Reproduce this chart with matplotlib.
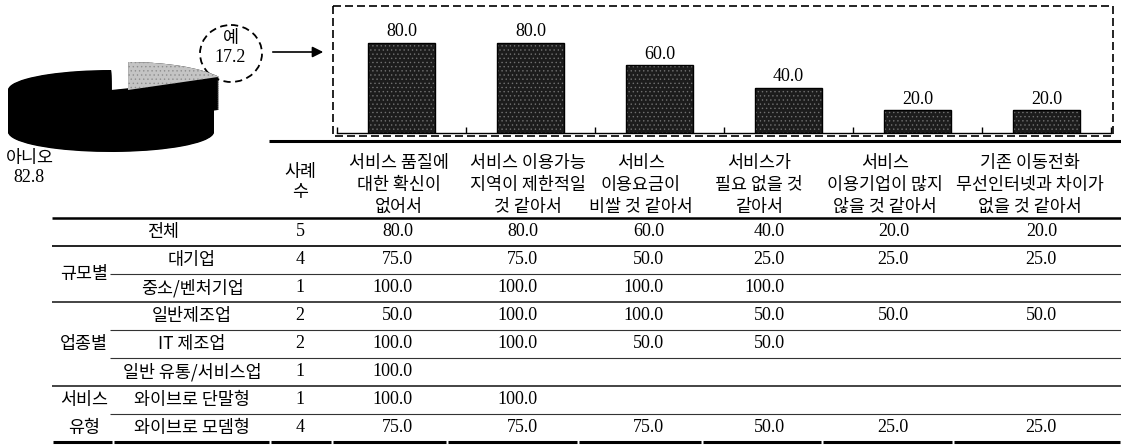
import numpy as np
import matplotlib
matplotlib.use("Agg")
import matplotlib.pyplot as plt
from matplotlib.patches import Ellipse, Rectangle

plt.rcParams['font.family'] = ['Noto Sans CJK KR', 'DejaVu Sans']
plt.rcParams['hatch.linewidth'] = 0.5

# 와이브로 서비스 이용 의향 (예/아니오, %)
pie_names = ["예", "아니오"]
pie_values = [17.2, 82.8]

# 이용하지 않으려는 이유 (복수응답, %)
reasons = [
    "서비스 품질에\n대한 확신이\n없어서",
    "서비스 이용가능\n지역이 제한적일\n것 같아서",
    "서비스\n이용요금이\n비쌀 것 같아서",
    "서비스가\n필요 없을 것\n같아서",
    "서비스\n이용기업이 많지\n않을 것 같아서",
    "기존 이동전화\n무선인터넷과 차이가\n없을 것 같아서",
]
overall = [80.0, 80.0, 60.0, 40.0, 20.0, 20.0]

group_names = ["규모별", "업종별", "서비스\n유형"]
group_sizes = [2, 3, 2]
row_labels = ["전체", "대기업", "중소/벤처기업", "일반제조업", "IT 제조업",
              "일반 유통/서비스업", "와이브로 단말형", "와이브로 모뎀형"]
row_counts = [5, 4, 1, 2, 2, 1, 1, 4]
nan = np.nan
row_values = [
    overall,
    [75.0, 75.0, 50.0, 25.0, 25.0, 25.0],
    [100.0, 100.0, 100.0, 100.0, nan, nan],
    [50.0, 100.0, 100.0, 50.0, 50.0, 50.0],
    [100.0, 100.0, 50.0, 50.0, nan, nan],
    [100.0, nan, nan, nan, nan, nan],
    [100.0, 100.0, nan, nan, nan, nan],
    [75.0, 75.0, 75.0, 50.0, 25.0, 25.0],
]

W, H = 1121, 447
NUM_FONT = dict(family='Liberation Serif', fontsize=13)
KO_SIZE = 12.5


def rect(x0, y0, x1, y1):
    # 픽셀 좌표(위가 0) -> figure 좌표
    return [x0 / W, 1 - y1 / H, (x1 - x0) / W, (y1 - y0) / H]


def pie_axes(cy, unit_y):
    # 가로 반지름 103px, 중심 x=111px 인 납작한 원그래프용 축
    ax = fig.add_axes(rect(0, 30, 240, 175))
    ax.patch.set_alpha(0)
    return ax, cy, unit_y


def finish_pie(ax, cy, unit_y):
    ax.set_xlim((0 - 111) / 103, (240 - 111) / 103)
    ax.set_ylim((cy - 175) / unit_y, (cy - 30) / unit_y)
    ax.set_aspect('auto')
    ax.axis('off')


fig = plt.figure(figsize=(W / 100, H / 100), dpi=100)

# 전체 배경용 축 (픽셀 단위): 표, 글자, 점선 상자
ov = fig.add_axes([0, 0, 1, 1])
ov.set_xlim(0, W)
ov.set_ylim(H, 0)
ov.axis('off')

# ---- 3D 느낌의 원그래프 ----
kw = dict(startangle=28, counterclock=True, wedgeprops=dict(linewidth=0))

# 아니오: 윗면 중심 y=90px, 세로 반지름 20px, 두께 42px
pa, cy, uy = pie_axes(90, 20.0)
for d in np.linspace(42 / uy, 0, 70):
    pa.pie(pie_values, colors=['none', 'black'], center=(0, -d), **kw)
finish_pie(pa, cy, uy)

# 예: 바깥으로 빼낸 조각, 꼭짓점 (128, 90)px, 세로 반지름 28px
ga, cy, uy = pie_axes(90, 28.0)
gx = 17 / 103
for d in np.linspace(33 / uy, 0, 50):
    ga.pie(pie_values, colors=['black', 'none'], center=(gx, -d), **kw)
wedges = ga.pie(pie_values, colors=['#c4c4c4', 'none'], center=(gx, 0), **kw)[0]
wedges[0].set_edgecolor('#8e8e8e')
wedges[0].set_linewidth(0)
wedges[0].set_hatch('....')
finish_pie(ga, cy, uy)

ov.text(30, 158, pie_names[1], ha='center', va='center', fontsize=KO_SIZE)
ov.text(29, 177, f"{pie_values[1]:.1f}", ha='center', va='center', **NUM_FONT)
ov.text(231, 38, pie_names[0], ha='center', va='center', fontsize=KO_SIZE)
ov.text(230, 58, f"{pie_values[0]:.1f}", ha='center', va='center', **NUM_FONT)
ov.add_patch(Ellipse((231, 53.5), 62, 57, fill=False, lw=1.3, ls=(0, (4, 2.5))))
ov.annotate('', xy=(326, 52), xytext=(270, 52),
            arrowprops=dict(arrowstyle='-|>', color='black', lw=1.2, mutation_scale=16))

# ---- 막대그래프 (점선 상자 안) ----
ov.add_patch(Rectangle((333, 6), 780, 130, fill=False, lw=1.2, ls=(0, (4.8, 2.4))))
ba = fig.add_axes(rect(337, 20, 1111, 132.5))
ba.patch.set_alpha(0)
x = np.arange(len(overall))
ba.bar(x, overall, width=0.52, color='#1c1c1c', edgecolor='#707070',
       hatch='....', linewidth=0)
bars = ba.bar(x, overall, width=0.52, fill=False, edgecolor='black', linewidth=1.0)
ba.bar_label(bars, fmt='%.1f', padding=1.5, **NUM_FONT)
ba.set_xlim(-0.5, len(overall) - 0.5)
ba.set_ylim(0, 100)
for s in ['top', 'left', 'right']:
    ba.spines[s].set_visible(False)
ba.spines['bottom'].set_linewidth(1.0)
ba.set_yticks([])
ba.set_xticks(np.arange(-0.5, len(overall)))
ba.tick_params(axis='x', direction='in', length=4, width=1, labelbottom=False)

# ---- 표 ----
head_x = [399, 528, 641, 759, 885, 1030]
val_right = [413, 538, 664, 785, 909, 1057]
head_y = [163, 185, 207]
row_y = [232 + 28 * i for i in range(len(row_labels))]
col_edges = [52, 113, 270, 332, 447, 578, 702, 822, 953, W]

ov.plot([269, W], [141, 141], color='black', lw=2.2, solid_capstyle='butt')
ov.text(300, 172, "사례", ha='center', va='center', fontsize=KO_SIZE)
ov.text(300, 192, "수", ha='center', va='center', fontsize=KO_SIZE)
for cx, txt in zip(head_x, reasons):
    for ly, line in zip(head_y, txt.split("\n")):
        ov.text(cx, ly, line, ha='center', va='center', fontsize=KO_SIZE)
ov.plot([52, W], [218, 218], color='black', lw=1.8, solid_capstyle='butt')

for i, (lab, n, vals) in enumerate(zip(row_labels, row_counts, row_values)):
    y = row_y[i]
    ov.text(163 if i == 0 else 192, y, lab, ha='center', va='center', fontsize=KO_SIZE)
    ov.text(300, y, str(n), ha='center', va='center', **NUM_FONT)
    for xr, v in zip(val_right, vals):
        if not np.isnan(v):
            ov.text(xr, y, f"{v:.1f}", ha='right', va='center', **NUM_FONT)

# 그룹 이름과 구분선
ov.plot([52, W], [246, 246], color='#111111', lw=1.3, solid_capstyle='butt')
start = 1
for name, size in zip(group_names, group_sizes):
    ys = row_y[start:start + size]
    lines = name.split("\n")
    if len(lines) == 1:
        ov.text(84, np.mean(ys), name, ha='center', va='center', fontsize=KO_SIZE)
    else:
        for ly, line in zip(ys, lines):
            ov.text(84, ly, line, ha='center', va='center', fontsize=KO_SIZE)
    for y in ys[:-1]:
        ov.plot([110, W], [y + 14, y + 14], color='#333333', lw=0.8, solid_capstyle='butt')
    start += size
    if start < len(row_labels):
        ov.plot([52, W], [row_y[start] - 14, row_y[start] - 14], color='#111111',
                lw=1.1, solid_capstyle='butt')

bottom = row_y[-1] + 14
for a, b in zip(col_edges[:-1], col_edges[1:]):
    ov.plot([a + 1, b - 1], [bottom, bottom], color='black', lw=2.2, solid_capstyle='butt')

fig.savefig("out.png", dpi=100)
